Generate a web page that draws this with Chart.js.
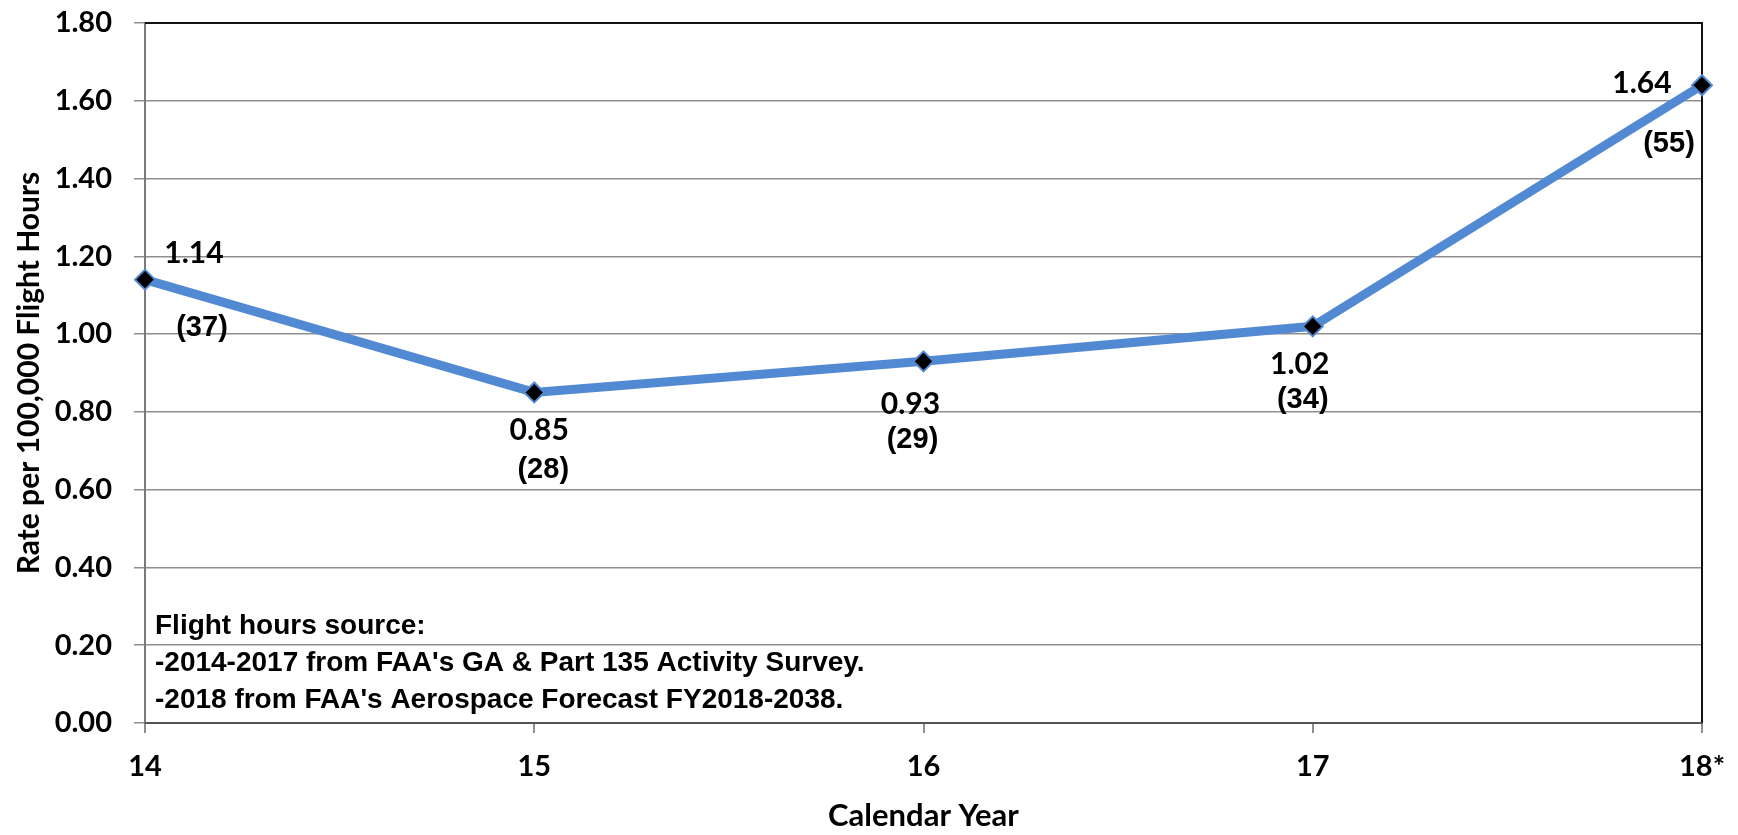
<!DOCTYPE html>
<html>
<head>
<meta charset="utf-8">
<script src="https://cdn.jsdelivr.net/npm/chart.js@4"></script>
<style>
  body { margin: 0; background: #fff; }
  #wrap { width: 1738px; height: 835px; }
</style>
</head>
<body>
<div id="wrap"><canvas id="rateChart"></canvas></div>
<script>
const years = ["14", "15", "16", "17", "18*"];
const rates = [1.14, 0.85, 0.93, 1.02, 1.64];
const accidents = [37, 28, 29, 34, 55];
const yTicks = [0, 0.2, 0.4, 0.6, 0.8, 1.0, 1.2, 1.4, 1.6, 1.8];
const noteLines = [
	"Flight hours source:",
	"-2014-2017 from FAA's GA & Part 135 Activity Survey.",
	"-2018 from FAA's Aerospace Forecast FY2018-2038.",
];

// where each pair of labels sits relative to its point
const valueOffsets = [[49, -26], [5, 38], [-13, 43], [-13, 38], [-60, -2]];
const countOffsets = [[57, 48], [9, 78], [-11, 79], [-10, 74], [-33, 59]];

const lineBlue = "#5189d3";
const gridGray = "#8f8f8f";

const frame = {
	id: "frame",
	beforeDatasetsDraw(chart) {
		const { ctx, chartArea: a } = chart;
		ctx.save();
		ctx.strokeStyle = "#111";
		ctx.lineWidth = 2;
		ctx.beginPath();
		ctx.moveTo(a.left, a.top);
		ctx.lineTo(a.right, a.top);
		ctx.lineTo(a.right, a.bottom);
		ctx.stroke();
		ctx.strokeStyle = "#555";
		ctx.beginPath();
		ctx.moveTo(a.left, a.bottom);
		ctx.lineTo(a.right, a.bottom);
		ctx.stroke();
		ctx.restore();
	},
};

const labels = {
	id: "labels",
	afterDatasetsDraw(chart) {
		const { ctx, chartArea: a } = chart;
		const pts = chart.getDatasetMeta(0).data;
		ctx.save();
		ctx.fillStyle = "#000";
		ctx.textAlign = "center";
		ctx.textBaseline = "middle";
		pts.forEach((p, i) => {
			ctx.font = "bold 30px Lato";
			ctx.fillText(rates[i].toFixed(2), p.x + valueOffsets[i][0], p.y + valueOffsets[i][1]);
			ctx.font = "bold 29px 'Liberation Sans'";
			ctx.fillText("(" + accidents[i] + ")", p.x + countOffsets[i][0], p.y + countOffsets[i][1]);
		});
		ctx.textAlign = "left";
		ctx.font = "bold 28px 'Liberation Sans'";
		noteLines.forEach((t, i) => {
			ctx.fillText(t, a.left + 10, a.bottom - 97 + i * 37);
		});
		ctx.restore();
	},
};

new Chart(document.getElementById("rateChart"), {
	type: "line",
	data: {
		labels: years,
		datasets: [
			{
				data: rates,
				borderColor: lineBlue,
				borderWidth: 9,
				tension: 0,
				pointStyle: "rectRot",
				pointRadius: 10,
				pointBackgroundColor: "#000",
				pointBorderColor: lineBlue,
				pointBorderWidth: 2,
				clip: false,
			},
		],
	},
	options: {
		responsive: true,
		maintainAspectRatio: false,
		animation: false,
		layout: { padding: { top: 23, right: 36, bottom: 0, left: 0 } },
		plugins: {
			legend: { display: false },
			tooltip: { enabled: false },
		},
		scales: {
			x: {
				offset: false,
				afterFit(scale) {
					scale.height = 112;
					scale.paddingLeft = 0;
					scale.paddingRight = 0;
				},
				grid: {
					drawOnChartArea: false,
					tickLength: 10,
					color: gridGray,
					lineWidth: 2,
				},
				border: { color: "#555", width: 2 },
				ticks: {
					color: "#000",
					padding: 16,
					maxRotation: 0,
					font: { family: "Lato", size: 29, weight: "bold" },
				},
				title: {
					display: true,
					text: "Calendar Year",
					color: "#000",
					padding: { top: 0, bottom: 0 },
					font: { family: "Lato", size: 31, weight: "bold" },
				},
			},
			y: {
				min: 0,
				max: 1.8,
				afterFit(scale) {
					scale.width = 145;
					scale.paddingTop = 0;
					scale.paddingBottom = 0;
				},
				afterBuildTicks(scale) {
					scale.ticks = yTicks.map((v) => ({ value: v }));
				},
				grid: {
					color: gridGray,
					lineWidth: 1.5,
					tickLength: 11,
				},
				border: { color: "#7a7a7a", width: 2 },
				ticks: {
					color: "#000",
					padding: 22,
					font: { family: "Lato", size: 29, weight: "bold" },
					callback: (v) => Number(v).toFixed(2),
				},
				title: {
					display: true,
					text: "Rate per 100,000 Flight Hours",
					color: "#000",
					padding: { top: 11, bottom: 0 },
					font: { family: "Lato", size: 30, weight: "bold" },
				},
			},
		},
	},
	plugins: [frame, labels],
});
</script>
</body>
</html>
